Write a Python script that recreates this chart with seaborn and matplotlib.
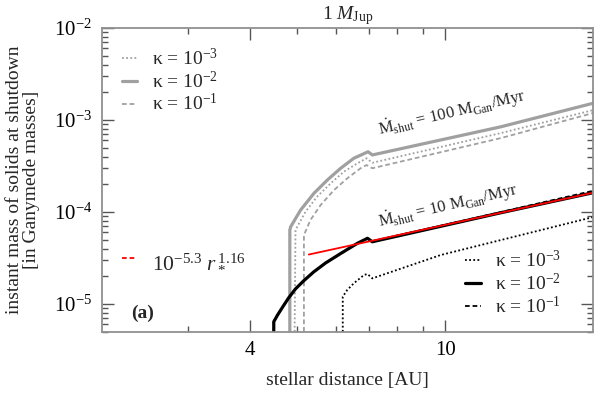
import matplotlib
matplotlib.use("Agg")
import matplotlib.pyplot as plt
import seaborn as sns
import numpy as np
from matplotlib.ticker import FixedLocator, FixedFormatter, LogLocator, NullFormatter
from matplotlib.lines import Line2D

# stellar distance [AU] vs. instant solid mass at shutdown [Ganymede masses]
# Mdot_shut = 100 M_Gan/Myr (gray curves)
r_100_k3 = [4.94, 4.96, 5.20, 5.49, 5.85, 6.22, 6.63, 6.92, 7.11, 13.0, 20.0]
m_100_k3 = [5e-6, 6.37e-5, 1.01e-4, 1.47e-4, 2.05e-4, 2.74e-4, 3.38e-4, 3.84e-4, 3.43e-4, 7.22e-4, 1.28e-3]
r_100_k2 = [4.83, 4.83, 4.85, 5.08, 5.41, 5.76, 6.13, 6.52, 6.97, 7.11, 13.0, 20.0]
m_100_k2 = [5e-6, 6.37e-5, 6.92e-5, 1.05e-4, 1.60e-4, 2.23e-4, 2.99e-4, 3.84e-4, 4.52e-4, 4.17e-4, 8.45e-4, 1.52e-3]
r_100_k1 = [5.16, 5.16, 5.32, 5.58, 5.94, 6.32, 6.73, 6.92, 7.11, 13.0, 20.0]
m_100_k1 = [5e-6, 5.62e-5, 8.18e-5, 1.19e-4, 1.73e-4, 2.32e-4, 2.99e-4, 3.24e-4, 2.99e-4, 6.37e-4, 1.19e-3]

# Mdot_shut = 10 M_Gan/Myr (black curves)
r_10_k3 = [6.19, 6.19, 6.32, 6.52, 6.84, 6.95, 7.11, 9.80, 20.0]
m_10_k3 = [5e-6, 1.20e-5, 1.42e-5, 1.68e-5, 2.07e-5, 2.12e-5, 1.90e-5, 3.41e-5, 8.8e-5]
r_10_k2 = [4.48, 4.48, 4.56, 4.67, 4.80, 4.96, 5.15, 5.40, 5.71, 6.13, 6.63, 6.95, 7.11, 13.0, 20.0]
m_10_k2 = [5e-6, 6.42e-6, 7.59e-6, 9.27e-6, 1.16e-5, 1.46e-5, 1.78e-5, 2.23e-5, 2.79e-5, 3.54e-5, 4.57e-5, 5.18e-5, 4.75e-5, 9.83e-5, 1.62e-4]
r_10_k1 = [4.48, 4.48, 4.56, 4.67, 4.80, 4.96, 5.15, 5.40, 5.71, 6.13, 6.63, 6.95, 7.11, 13.0, 20.0]
m_10_k1 = [5e-6, 6.42e-6, 7.59e-6, 9.27e-6, 1.16e-5, 1.46e-5, 1.78e-5, 2.23e-5, 2.79e-5, 3.54e-5, 4.57e-5, 5.18e-5, 4.80e-5, 1.00e-4, 1.70e-4]

# fit 10^-5.3 r^1.16, end points
r_fit = [5.28, 20.0]
m_fit = [3.45e-5, 1.62e-4]

kappa_labels = [r"κ = 10$^{-3}$", r"κ = 10$^{-2}$", r"κ = 10$^{-1}$"]
fit_label = r"10$^{-5.3}$ $r_*^{\,1.16}$"
xtick_vals = [4, 10]
xtick_labels = ["4", "10"]
xminor_vals = [3, 5, 6, 7, 8, 9]

sns.set_theme(style="ticks")
plt.rcParams["font.family"] = ["Liberation Serif", "DejaVu Serif"]
plt.rcParams["mathtext.fontset"] = "custom"
plt.rcParams["mathtext.rm"] = "Liberation Serif"
plt.rcParams["mathtext.it"] = "Liberation Serif:italic"
plt.rcParams["mathtext.bf"] = "Liberation Serif:bold"

gray = "#a0a0a0"
dot = (0, (1.0, 1.3))
dash = (0, (2.6, 1.6))

fig = plt.figure(figsize=(5.94, 3.94), dpi=100)
ax = fig.add_axes([0.1712, 0.1581, 0.8271, 0.7708])

styles = [
    (r_100_k3, m_100_k3, gray, dot, 1.3),
    (r_100_k2, m_100_k2, gray, "-", 2.3),
    (r_100_k1, m_100_k1, gray, dash, 1.3),
    (r_10_k3, m_10_k3, "black", dot, 1.3),
    (r_10_k1, m_10_k1, "black", dash, 1.3),
    (r_10_k2, m_10_k2, "black", "-", 2.3),
]
for r, m, c, ls, lw in styles:
    sns.lineplot(x=r, y=m, ax=ax, color=c, linestyle=ls, linewidth=lw,
                 sort=False, estimator=None)
sns.lineplot(x=r_fit, y=m_fit, ax=ax, color="red", linewidth=1.3,
             sort=False, estimator=None)

ax.set_xscale("log")
ax.set_yscale("log")
ax.set_xlim(2, 20)
ax.set_ylim(5e-6, 1e-2)

ax.xaxis.set_major_locator(FixedLocator(xtick_vals))
ax.xaxis.set_major_formatter(FixedFormatter(xtick_labels))
ax.xaxis.set_minor_locator(FixedLocator(xminor_vals))
ax.xaxis.set_minor_formatter(NullFormatter())
ax.yaxis.set_major_locator(LogLocator(base=10))
ax.yaxis.set_minor_locator(LogLocator(base=10, subs=np.arange(2, 10)))
ax.yaxis.set_minor_formatter(NullFormatter())

ax.tick_params(which="both", direction="in", top=True, right=True,
               color="#555555", labelcolor="black", labelsize=15)
ax.tick_params(which="major", length=8.5, width=1.0, pad=7)
ax.tick_params(which="minor", length=4.3, width=1.0)
for s in ax.spines.values():
    s.set_color("#909090")
    s.set_linewidth(1.3)

ax.set_xlabel("stellar distance [AU]", fontsize=14, va="center")
ax.xaxis.set_label_coords(0.5, -0.162)
ax.set_ylabel("instant mass of solids at shutdown\n[in Ganymede masses]",
              fontsize=14, va="center", linespacing=1.0)
ax.yaxis.set_label_coords(-0.160, 0.5)
ax.set_title(r"1 $M_{\rm Jup}$", fontsize=14, pad=6)

ax.text(0.713, 0.720, r"$\dot{\rm M}_{\rm shut}$ = 100 M$_{\rm Gan}$/Myr",
        transform=ax.transAxes, rotation=13.2, rotation_mode="anchor",
        ha="center", va="center", fontsize=12)
ax.text(0.705, 0.414, r"$\dot{\rm M}_{\rm shut}$ = 10 M$_{\rm Gan}$/Myr",
        transform=ax.transAxes, rotation=13.2, rotation_mode="anchor",
        ha="center", va="center", fontsize=12)
ax.text(0.084, 0.062, "(a)", transform=ax.transAxes, ha="center", va="center",
        fontsize=14, fontweight="bold")

lines = ax.get_lines()
leg_kw = dict(frameon=False, fontsize=14, handlelength=0.8, handletextpad=0.75,
              labelspacing=0.08, borderpad=0, borderaxespad=0)
leg1 = ax.legend(lines[0:3], kappa_labels, loc="center left",
                 bbox_to_anchor=(0.041, 0.8255), **leg_kw)
ax.add_artist(leg1)
fit_handle = Line2D([], [], color="red", linestyle=(0, (2.6, 1.6)), linewidth=1.3)
leg_kw_fit = dict(leg_kw, fontsize=15.5, handlelength=0.72, handletextpad=0.7)
leg2 = ax.legend([fit_handle], [fit_label], loc="center left",
                 bbox_to_anchor=(0.041, 0.233), **leg_kw_fit)
ax.add_artist(leg2)
ax.legend([lines[3], lines[5], lines[4]], kappa_labels, loc="center left",
          bbox_to_anchor=(0.7395, 0.159), **leg_kw)

fig.savefig("out.png", dpi=100)
